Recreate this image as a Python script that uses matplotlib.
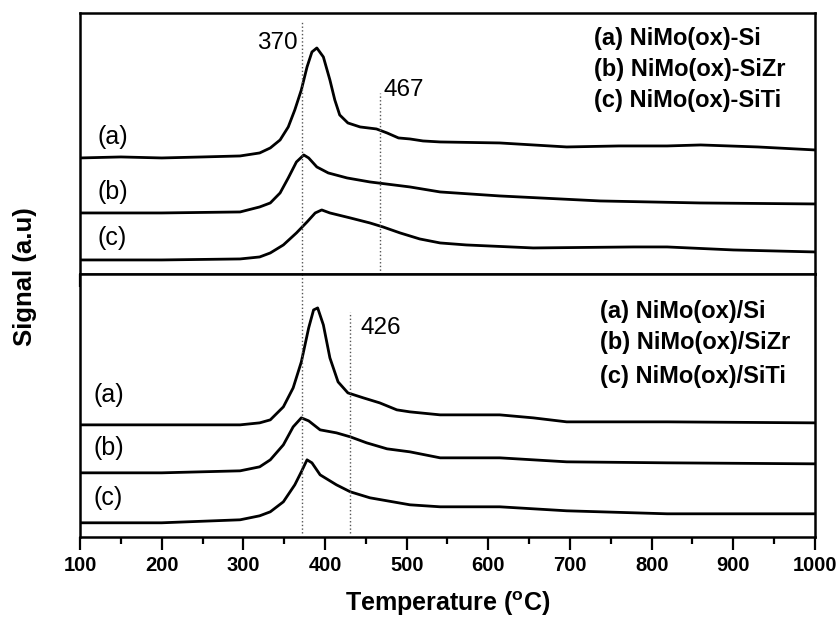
import numpy as np
import matplotlib
matplotlib.use('Agg')
import matplotlib.pyplot as plt
from matplotlib.ticker import MultipleLocator

plt.rcParams['font.family'] = ['Liberation Sans', 'DejaVu Sans']
plt.rcParams['mathtext.fontset'] = 'custom'
plt.rcParams['mathtext.bf'] = 'Liberation Sans:bold'
plt.rcParams['mathtext.rm'] = 'Liberation Sans'

# top panel: oxide precursors NiMo(ox)-X  (signal in arbitrary units)
top_a_T = [100, 150, 200, 250, 296, 320, 333, 345, 355, 363, 371, 378, 384, 390, 398, 406, 412, 418,
           428, 443, 463, 476, 490, 504, 520, 541, 614, 696, 760, 819, 860, 930, 1000]
top_a_S = [116, 117, 116, 117, 118, 121, 126, 134, 147, 164, 184, 207, 222, 226, 217, 194, 174, 159,
           151, 147, 145, 141, 136, 135, 133, 132, 131, 127, 128, 128, 129, 127, 124]

top_b_T = [100, 200, 296, 320, 333, 345, 355, 365, 374, 380, 390, 404, 427, 455, 504, 541, 614, 737,
           859, 1000]
top_b_S = [61, 61, 62, 67, 71, 81, 96, 112, 119, 116, 107, 101, 96, 92, 87, 82, 78, 73, 71, 70]

top_c_T = [100, 200, 296, 320, 333, 349, 365, 378, 388, 396, 406, 431, 455, 471, 492, 516, 541, 573,
           655, 778, 819, 900, 1000]
top_c_S = [14, 14, 15, 17, 21, 29, 41, 52, 61, 64, 61, 56, 51, 47, 41, 35, 31, 29, 26, 27, 27, 24, 22]

# bottom panel: NiMo(ox)/X
bot_a_T = [100, 200, 296, 320, 333, 349, 361, 371, 380, 386, 391, 398, 406, 416, 428, 447, 467, 488,
           504, 541, 614, 655, 696, 819, 1000]
bot_a_S = [112, 112, 112, 114, 117, 130, 149, 175, 209, 227, 229, 212, 179, 155, 144, 139, 134, 127,
           125, 122, 122, 119, 115, 115, 114]

bot_b_T = [100, 200, 296, 320, 333, 349, 361, 371, 380, 394, 414, 431, 451, 476, 504, 541, 614, 696,
           819, 1000]
bot_b_S = [64, 64, 66, 70, 77, 92, 110, 119, 116, 107, 104, 100, 94, 88, 85, 79, 79, 75, 74, 73]

bot_c_T = [100, 200, 296, 320, 333, 349, 363, 371, 378, 384, 394, 414, 431, 455, 504, 541, 614, 696,
           819, 1000]
bot_c_S = [14, 14, 17, 21, 25, 35, 52, 65, 77, 74, 62, 52, 45, 39, 32, 30, 30, 26, 23, 23]

top_names = ['(a) NiMo(ox)-Si', '(b) NiMo(ox)-SiZr', '(c) NiMo(ox)-SiTi']
bot_names = ['(a) NiMo(ox)/Si', '(b) NiMo(ox)/SiZr', '(c) NiMo(ox)/SiTi']
tags = ['(a)', '(b)', '(c)']
top_tag_y = [137, 82, 36]
bot_tag_y = [142, 89, 39]

fig = plt.figure(figsize=(8.38, 6.17), dpi=100)
ax1 = fig.add_axes([0.0955, 0.556, 0.877, 0.423])
ax2 = fig.add_axes([0.0955, 0.13, 0.877, 0.426])

for ax in (ax1, ax2):
    ax.set_xlim(100, 1000)
    ax.set_yticks([])
    ax.xaxis.set_major_locator(MultipleLocator(100))
    ax.xaxis.set_minor_locator(MultipleLocator(50))
    ax.tick_params(axis='x', which='major', direction='out', length=9, width=1.6, pad=5)
    ax.tick_params(axis='x', which='minor', direction='out', length=5, width=1.6)
    for sp in ax.spines.values():
        sp.set_linewidth(1.8)

ax1.set_ylim(0, 261)
ax2.set_ylim(0, 263)
ax1.tick_params(axis='x', labelbottom=False)

ax1.plot(top_a_T, top_a_S, color='black', lw=2)
ax1.plot(top_b_T, top_b_S, color='black', lw=2)
ax1.plot(top_c_T, top_c_S, color='black', lw=2)
ax2.plot(bot_a_T, bot_a_S, color='black', lw=2)
ax2.plot(bot_b_T, bot_b_S, color='black', lw=2)
ax2.plot(bot_c_T, bot_c_S, color='black', lw=2)

# dotted guide lines
ax1.axvline(372, ymin=0, ymax=252 / 261, color='#555555', ls=':', lw=1)
ax1.axvline(467, ymin=0, ymax=181 / 261, color='#555555', ls=':', lw=1)
ax2.axvline(372, ymin=4 / 263, ymax=1, color='#555555', ls=':', lw=1)
ax2.axvline(430, ymin=4 / 263, ymax=225 / 263, color='#555555', ls=':', lw=1)

ax1.text(367, 231, '370', fontsize=17.5, ha='right', va='center')
ax1.text(472, 184, '467', fontsize=17.5, ha='left', va='center')
ax2.text(444, 209, '426', fontsize=17.5, ha='left', va='center')

for t, y in zip(tags, top_tag_y):
    ax1.text(121, y, t, fontsize=18, ha='left', va='center')
for t, y in zip(tags, bot_tag_y):
    ax2.text(117, y, t, fontsize=18, ha='left', va='center')

for name, y in zip(top_names, [0.904, 0.782, 0.663]):
    ax1.text(0.70, y, name, transform=ax1.transAxes,
             fontsize=17, fontweight='bold', ha='left', va='center')
for name, y in zip(bot_names, [0.856, 0.738, 0.608]):
    ax2.text(0.707, y, name, transform=ax2.transAxes,
             fontsize=17, fontweight='bold', ha='left', va='center')

for lab in ax2.get_xticklabels():
    lab.set_fontweight('bold')
    lab.set_fontsize(14.5)

ax2.set_xlabel(r'Temperature ($^{\mathbf{o}}$C)', fontsize=18, fontweight='bold', labelpad=10)
fig.text(0.03, 1 - 277 / 617, 'Signal (a.u)', rotation=90, fontsize=18.5, fontweight='bold',
         ha='center', va='center')

fig.savefig('out.png', dpi=100)
